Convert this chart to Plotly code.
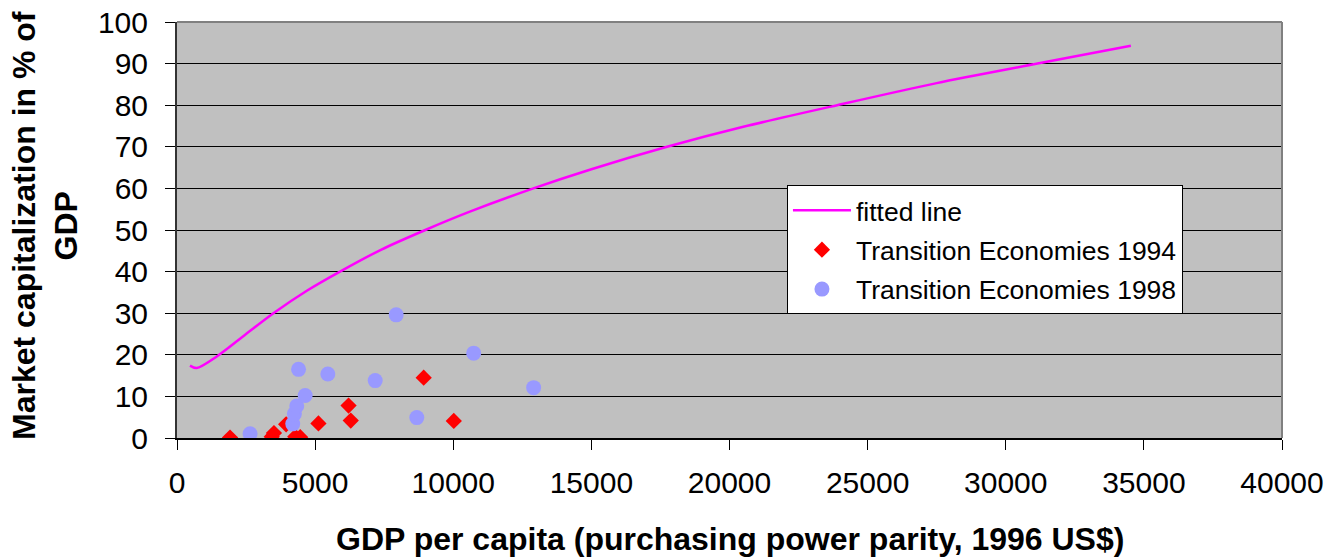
import plotly.graph_objects as go

# Fitted line
fit_x = [470, 710, 1440, 2500, 3490, 4700, 5900, 7400, 8990, 10600, 12900, 15000,
         17740, 20500, 23900, 27500, 31150, 34530]
fit_y = [17.4, 16.8, 19.6, 25.0, 30.0, 35.4, 40.0, 45.3, 50.0, 54.4, 60.0, 64.6,
         70.0, 74.8, 80.0, 85.3, 90.0, 94.3]

# Transition Economies 1994
te94_x = [1920, 3430, 3510, 3950, 4280, 4460, 5120, 6210, 6290, 8930, 10020]
te94_y = [0.1, 0.3, 1.2, 3.3, 0.3, 0.2, 3.5, 7.8, 4.2, 14.5, 4.1]

# Transition Economies 1998
te98_x = [2645, 4190, 4250, 4335, 4640, 4400, 5460, 7175, 8680, 10740, 12910, 7935]
te98_y = [1.0, 3.4, 5.8, 7.7, 10.2, 16.5, 15.4, 13.8, 4.9, 20.4, 12.1, 29.6]

x_ticks = [0, 5000, 10000, 15000, 20000, 25000, 30000, 35000, 40000]
y_ticks = [0, 10, 20, 30, 40, 50, 60, 70, 80, 90, 100]

fig = go.Figure()
fig.add_trace(go.Scatter(x=fit_x, y=fit_y, mode="lines", name="fitted line", legendgroup="a",
                         line=dict(color="#FF00FF", width=2.5, shape="spline", smoothing=0.8)))
fig.add_trace(go.Scatter(x=te94_x, y=te94_y, mode="markers", name="Transition Economies 1994",
                         legendgroup="b",
                         marker=dict(symbol="diamond", color="#FF0000", size=12.5, line=dict(width=0))))
fig.add_trace(go.Scatter(x=te98_x, y=te98_y, mode="markers", name="Transition Economies 1998",
                         legendgroup="c",
                         marker=dict(symbol="circle", color="#9999FF", size=15, line=dict(width=0))))

font_family = "Liberation Sans, Arial, sans-serif"

fig.update_layout(
    width=1341, height=559,
    margin=dict(l=177, r=59, t=22, b=121, autoexpand=False),
    paper_bgcolor="white",
    plot_bgcolor="#C0C0C0",
    font=dict(family=font_family, color="black", size=30),
    showlegend=True,
    legend=dict(
        x=0.552, y=0.607, xanchor="left", yanchor="top",
        bgcolor="white", bordercolor="black", borderwidth=1,
        font=dict(size=26.5, family=font_family, color="black"),
        itemwidth=58, tracegroupgap=2,
    ),
    xaxis=dict(
        range=[0, 40000], tickvals=x_ticks, ticktext=[str(v) for v in x_ticks],
        showgrid=False, zeroline=False, automargin=False,
        showline=True, linecolor="black", linewidth=1.5,
        ticks="outside", ticklen=10, tickcolor="black", tickwidth=1,
        ticklabelstandoff=7,
        tickfont=dict(size=30), fixedrange=True,
    ),
    yaxis=dict(
        range=[0, 100], tickvals=y_ticks, ticktext=[str(v) for v in y_ticks],
        showgrid=True, gridcolor="black", gridwidth=1, zeroline=False, automargin=False,
        showline=True, linecolor="#333333", linewidth=2,
        ticks="outside", ticklen=10, tickcolor="black", tickwidth=1,
        ticklabelstandoff=11,
        tickfont=dict(size=30), fixedrange=True,
    ),
    shapes=[
        dict(type="line", xref="paper", yref="paper", x0=0, x1=1, y0=1, y1=1,
             line=dict(color="#808080", width=2), layer="above"),
        dict(type="line", xref="paper", yref="paper", x0=1, x1=1, y0=0, y1=1,
             line=dict(color="#808080", width=2), layer="above"),
    ],
    annotations=[
        dict(text="<b>GDP per capita (purchasing power parity, 1996 US$)</b>",
             xref="paper", yref="paper", x=0.5, y=0, xanchor="center", yanchor="middle",
             yshift=-101, showarrow=False, font=dict(size=32, family=font_family)),
        dict(text="<b>Market capitalization in % of<br>GDP</b>",
             xref="paper", yref="paper", x=0, y=0.5, xanchor="center", yanchor="middle",
             xshift=-132, yshift=4, textangle=-90, showarrow=False,
             font=dict(size=32, family=font_family)),
    ],
)

fig.write_html("out.html", config={"displayModeBar": False},
               post_script="document.body.style.margin='0';document.body.style.overflow='hidden';")
